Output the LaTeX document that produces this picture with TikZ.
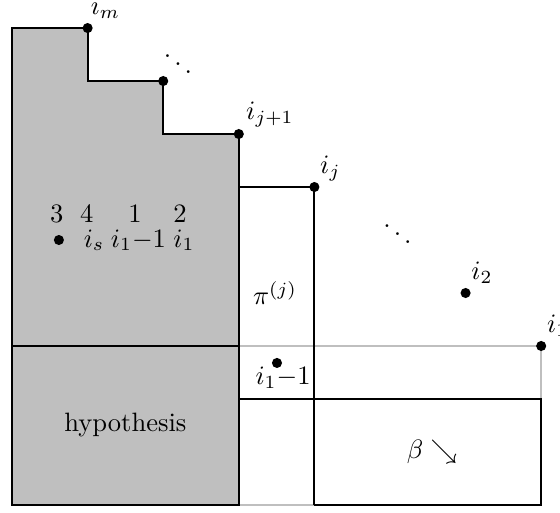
\documentclass[tikz,border=0pt]{standalone}
\usepackage{amsmath}
\begin{document}
\begin{tikzpicture}[x=1cm,y=0.701cm,
  blk/.style={line width=0.8pt, draw=black},
  gry/.style={line width=0.8pt, draw=gray!50},
  dotnode/.style={circle, fill=black, inner sep=0pt, minimum size=3.8pt},
  lab/.style={anchor=base west, inner sep=0pt, xshift=2pt, yshift=5pt},
  txt/.style={anchor=base, inner sep=0pt}]
\useasboundingbox (-0.159cm,-0.106cm) rectangle (7.249cm,6.68cm);
% grid coordinates
\coordinate (o) at (0,0);
\coordinate (tl) at (0,9);
\coordinate (pm) at (1,9);
\coordinate (c1) at (1,8);
\coordinate (pd) at (2,8);
\coordinate (c2) at (2,7);
\coordinate (pj1) at (3,7);
\coordinate (c6) at (3,6);
\coordinate (pj) at (4,6);
\coordinate (l3) at (0,3);
\coordinate (m3) at (3,3);
\coordinate (p1) at (7,3);
\coordinate (l2) at (3,2);
\coordinate (r2) at (7,2);
\coordinate (b3) at (3,0);
\coordinate (b4) at (4,0);
\coordinate (b7) at (7,0);
% shaded region
\fill[gray!50] (o) -- (tl) -- (pm) -- (c1) -- (pd) -- (c2) -- (pj1) -- (b3) -- cycle;
% gray lines
\draw[gry] (m3) -- (p1) -- (r2);
\draw[gry] (b3) -- (b4);
% black lines
\draw[blk] (o) -- (tl) -- (pm) -- (c1) -- (pd) -- (c2) -- (pj1) -- (b3) -- cycle;
\draw[blk] (l3) -- (m3);
\draw[blk] (c6) -- (pj) -- (b4);
\draw[blk] (l2) -- (r2) -- (b7) -- (b4);
% dots
\node[dotnode] (im) at (pm) {};
\node[dotnode] (idots) at (pd) {};
\node[dotnode] (ij1) at (pj1) {};
\node[dotnode] (ij) at (pj) {};
\node[dotnode] (i2) at (6,4) {};
\node[dotnode] (i1) at (p1) {};
\node[dotnode] (i1m) at (3.505,2.68) {};
\node[dotnode] (bul) at (0.62,5.0) {};
% dot labels
\node[lab, xshift=-1pt] (lm) at (im.center) {$i_m$};
\node[lab, xshift=0.6pt, yshift=0.3pt] (lj1) at (ij1.center) {$i_{j+1}$};
\node[lab] (lj) at (ij.center) {$i_j$};
\node[lab] (l2lab) at (i2.center) {$i_2$};
\node[lab] (l1lab) at (i1.center) {$i_1$};
% ellipses
\node[txt] (dd1) at (2.196,8.085) {$\ddots$};
\node[txt] (dd2) at (5.099,4.887) {$\ddots$};
% two-row labels
\node[txt] (r13) at (0.591,5.321) {$3$};
\node[txt] (r14) at (0.988,5.321) {$4$};
\node[txt] (r11) at (1.627,5.321) {$1$};
\node[txt] (r12) at (2.222,5.321) {$2$};
\node[txt] (r2s) at (1.085,4.868) {$i_s$};
\node[txt] (r2m) at (1.673,4.868) {$i_1{-}1$};
\node[txt] (r21) at (2.275,4.868) {$i_1$};
% other texts
\node[txt] (pi) at (3.479,3.774) {$\pi^{(j)}$};
\node[txt] (i1mlab) at (3.585,2.264) {$i_1{-}1$};
\node (hyp) at (1.5,1.5) {hypothesis};
\node (beta) at (5.556,1.0) {$\beta\searrow$};
\end{tikzpicture}
\end{document}
